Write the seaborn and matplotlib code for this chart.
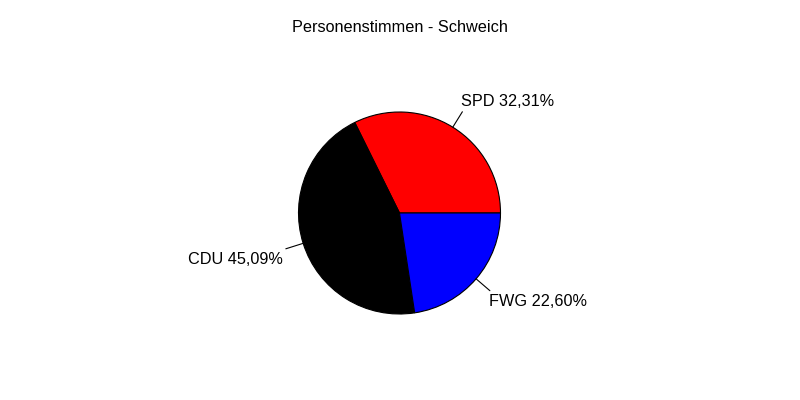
import numpy as np
import matplotlib
matplotlib.use("Agg")
import matplotlib.pyplot as plt
import seaborn as sns

parties = ["SPD", "CDU", "FWG"]
shares = [32.31, 45.09, 22.60]
colors = ["#FF0000", "#000000", "#0000FF"]
title = "Personenstimmen - Schweich"

sns.set_style("white")
plt.rcParams["font.family"] = ["Liberation Sans", "DejaVu Sans"]
plt.rcParams["text.color"] = "black"

fig = plt.figure(figsize=(8, 4), dpi=100)
ax = fig.add_axes([0, 0, 1, 1])
ax.set_xlim(0, 800)
ax.set_ylim(0, 400)
ax.set_aspect("equal")
ax.axis("off")

cx, cy, R = 399.5, 400 - 213, 101
wedges, _ = ax.pie(shares, colors=colors, startangle=0, counterclock=True,
                   center=(cx, cy), radius=R,
                   wedgeprops=dict(edgecolor="black", linewidth=0.8))
ax.set_xlim(0, 800)
ax.set_ylim(0, 400)

total = sum(shares)
start = 0.0
for name, val in zip(parties, shares):
    mid = np.deg2rad(360 * (start + val / 2) / total)
    start += val
    c, s = np.cos(mid), np.sin(mid)
    x0, y0 = cx + R * c, cy + R * s
    x1, y1 = cx + 1.18 * R * c, cy + 1.18 * R * s
    ax.plot([x0, x1], [y0, y1], color="black", linewidth=0.8)
    label = f"{name} {val:.2f}%".replace(".", ",")
    ha = "left" if c >= 0 else "right"
    va = "bottom" if s > 0 else "top"
    tx = x1 - 1 if c >= 0 else x1 - 3
    ty = y1 + 3 if s > 0 else y1 - 3
    ax.text(tx, ty, label, ha=ha, va=va, fontsize=11.7, color="black")

ax.text(400, 400 - 28, title, ha="center", va="center", fontsize=11.7,
        color="black")

fig.savefig("out.png", dpi=100)
